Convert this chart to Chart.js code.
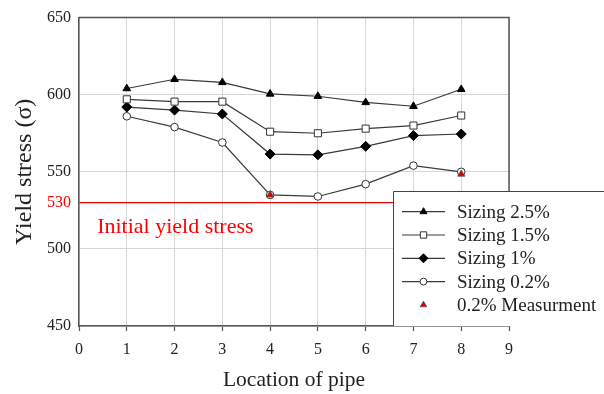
<!DOCTYPE html>
<html>
<head>
<meta charset="utf-8">
<script src="https://cdn.jsdelivr.net/npm/chart.js@4.4.1/dist/chart.umd.min.js"></script>
<style>
html,body{margin:0;padding:0;background:#fff;}
#wrap{width:604px;height:394px;}
</style>
</head>
<body>
<div id="wrap"><canvas id="c" width="604" height="394"></canvas></div>
<script>
// ---- data ----
const locations = [1, 2, 3, 4, 5, 6, 7, 8];
const sizing25 = [604, 610, 608, 600.5, 599, 595, 592.5, 603.5];
const sizing15 = [597, 595.5, 595.5, 576, 575, 578, 580, 586.5];
const sizing1  = [592, 590, 587.5, 561.5, 561, 566.5, 573.5, 574.5];
const sizing02 = [586, 579, 569, 535, 534, 542, 554, 550];
const measLocations = [4, 8];
const measValues = [535, 548.5];
const yTickValues = [450, 500, 530, 550, 600, 650];
const initialYield = 530;
const seriesLabels = ['Sizing 2.5%', 'Sizing 1.5%', 'Sizing 1%', 'Sizing 0.2%', '0.2% Measurment'];

const pts = (xs, ys) => xs.map((x, i) => ({x: x, y: ys[i]}));
const FONT = "'Liberation Serif', 'Times New Roman', serif";
const LINE = '#3a3a3a';

const datasets = [
  {label: seriesLabels[0], data: pts(locations, sizing25), pointStyle: 'triangle', pointRadius: 4.4,
   pointBackgroundColor: '#000', pointBorderColor: '#000', pointBorderWidth: 1, borderColor: LINE, borderWidth: 1.2},
  {label: seriesLabels[1], data: pts(locations, sizing15), pointStyle: 'rect', pointRadius: 5,
   pointBackgroundColor: '#fff', pointBorderColor: '#333', pointBorderWidth: 1, borderColor: LINE, borderWidth: 1.2},
  {label: seriesLabels[2], data: pts(locations, sizing1), pointStyle: 'rectRot', pointRadius: 5,
   pointBackgroundColor: '#000', pointBorderColor: '#000', pointBorderWidth: 1, borderColor: LINE, borderWidth: 1.2},
  {label: seriesLabels[3], data: pts(locations, sizing02), pointStyle: 'circle', pointRadius: 3.8,
   pointBackgroundColor: '#fff', pointBorderColor: '#333', pointBorderWidth: 1, borderColor: LINE, borderWidth: 1.2},
  {label: seriesLabels[4], data: pts(measLocations, measValues), pointStyle: 'triangle', pointRadius: 4.2,
   pointBackgroundColor: '#e00000', pointBorderColor: '#555', pointBorderWidth: 0.8, showLine: false, order: -1}
];

const extras = {
  id: 'extras',
  afterDraw(chart) {
    const ctx = chart.ctx, a = chart.chartArea;
    const xs = chart.scales.x, ys = chart.scales.y;
    ctx.save();
    // frame top & right
    ctx.strokeStyle = '#555';
    ctx.lineWidth = 1.5;
    ctx.beginPath();
    ctx.moveTo(a.left, a.top);
    ctx.lineTo(a.right, a.top);
    ctx.lineTo(a.right, a.bottom);
    ctx.stroke();
    // annotation text
    ctx.fillStyle = '#ff0000';
    ctx.font = '22px ' + FONT;
    ctx.textAlign = 'left';
    ctx.textBaseline = 'middle';
    ctx.fillText('Initial yield stress', xs.getPixelForValue(0.38), ys.getPixelForValue(514));
    // legend box
    const bx = 393, by = 191, bb = a.bottom;
    ctx.fillStyle = '#fff';
    ctx.fillRect(bx, by, chart.width - bx + 5, bb - by);
    ctx.strokeStyle = '#444';
    ctx.lineWidth = 1;
    ctx.beginPath();
    ctx.moveTo(bx + 0.5, bb);
    ctx.lineTo(bx + 0.5, by + 0.5);
    ctx.lineTo(chart.width + 2, by + 0.5);
    ctx.stroke();
    const rowY0 = 211.7, rowH = 23.3;
    chart.data.datasets.forEach((ds, i) => {
      const y = rowY0 + i * rowH;
      if (ds.showLine !== false) {
        ctx.strokeStyle = ds.borderColor;
        ctx.lineWidth = ds.borderWidth;
        ctx.beginPath();
        ctx.moveTo(402, y);
        ctx.lineTo(445, y);
        ctx.stroke();
      }
      ctx.fillStyle = ds.pointBackgroundColor;
      ctx.strokeStyle = ds.pointBorderColor;
      ctx.lineWidth = ds.pointBorderWidth;
      Chart.helpers.drawPoint(ctx, {pointStyle: ds.pointStyle, radius: ds.pointRadius * 0.9, rotation: 0, borderWidth: ds.pointBorderWidth}, 423.5, y);
      ctx.fillStyle = '#222';
      ctx.font = '19px ' + FONT;
      ctx.textAlign = 'left';
      ctx.textBaseline = 'middle';
      ctx.fillText(ds.label, 457, y + 1);
    });
    ctx.restore();
  }
};

new Chart(document.getElementById('c'), {
  type: 'line',
  data: {datasets: datasets},
  options: {
    responsive: false,
    animation: false,
    events: [],
    layout: {padding: {top: 15, right: 95, left: 0, bottom: 0}},
    plugins: {legend: {display: false}, tooltip: {enabled: false}},
    scales: {
      x: {
        type: 'linear', min: 0, max: 9,
        afterFit(s) { s.height = 68; },
        ticks: {stepSize: 1, color: '#222', font: {family: FONT, size: 16}, padding: 9, maxRotation: 0},
        grid: {color: '#d6d6d6', lineWidth: 1, drawTicks: true, tickLength: 5, tickColor: '#555', tickWidth: 1.2},
        border: {color: '#555', width: 1.5},
        title: {display: true, text: 'Location of pipe', color: '#222', font: {family: FONT, size: 21.5}, padding: {top: 0, bottom: 1}}
      },
      y: {
        min: 450, max: 650,
        afterFit(s) { s.width = 79; },
        afterBuildTicks(s) { s.ticks = yTickValues.map(v => ({value: v})); },
        ticks: {
          color: c => (c.tick && c.tick.value === initialYield) ? '#ff0000' : '#222',
          font: {family: FONT, size: 16}, padding: 8,
          callback: v => String(v)
        },
        grid: {
          color: c => (c.tick && c.tick.value === initialYield) ? '#e00000' : '#d6d6d6',
          lineWidth: c => (c.tick && c.tick.value === initialYield) ? 1.3 : 1,
          drawTicks: false
        },
        border: {color: '#555', width: 1.5},
        title: {display: true, text: 'Yield stress (σ)', color: '#222', font: {family: FONT, size: 24}, padding: {top: 10, bottom: 0}}
      }
    }
  },
  plugins: [extras]
});
</script>
</body>
</html>
